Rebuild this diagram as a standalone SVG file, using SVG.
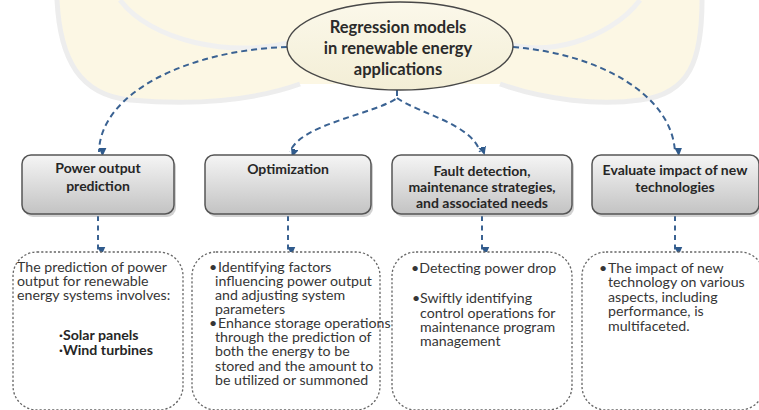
<svg xmlns="http://www.w3.org/2000/svg" width="759" height="410" viewBox="0 0 759 410">
<defs>
<style>
.hdr{fill:url(#gHdr);stroke:#555;stroke-width:1.5}
.hdrSh{fill:#9a9a9a;opacity:0.45}
.ht{font-family:Lato,"Liberation Sans",sans-serif;font-weight:bold;font-size:14px;fill:#262626;text-anchor:middle}
.bt{font-family:Lato,"Liberation Sans",sans-serif;font-size:14.2px;fill:#363636}
.bb{font-family:Lato,"Liberation Sans",sans-serif;font-size:14.2px;fill:#262626;font-weight:bold}
.dbox{fill:#fff;stroke:#666;stroke-width:1.3;stroke-dasharray:2.2 2}
.con{fill:none;stroke:#3a6292;stroke-width:2;stroke-dasharray:6 4;marker-end:url(#arr)}
.stem{fill:none;stroke:#3a6292;stroke-width:2;stroke-dasharray:5 4.5;marker-end:url(#arr)}
.et{font-family:Lato,"Liberation Sans",sans-serif;font-weight:bold;font-size:16.5px;fill:#2a2a2a;text-anchor:middle}
</style>
<linearGradient id="gHdr" x1="0" y1="0" x2="0" y2="1">
<stop offset="0" stop-color="#f5f5f5"/>
<stop offset="1" stop-color="#c3c3c3"/>
</linearGradient>
<linearGradient id="gEl" x1="0" y1="0" x2="0" y2="1">
<stop offset="0" stop-color="#fbf8ea"/>
<stop offset="1" stop-color="#f3eed6"/>
</linearGradient>
<marker id="arr" markerWidth="8" markerHeight="9" refX="4" refY="8" orient="auto" markerUnits="userSpaceOnUse" viewBox="0 0 8 9">
<path d="M0,0 L8,0 L4,9 Z" fill="#2f5a8c" transform="rotate(-90 4 4.5)"/>
</marker>
</defs>
<rect width="759" height="410" fill="#fff"/>
<g id="watermark" opacity="0.9">
<path d="M57,0 C60,60 80,95 130,100 C200,106 255,100 300,84 L500,84 C545,100 600,106 640,100 C690,94 702,60 702,0 Z" fill="#fcf7e2"/>
<path d="M57,0 C60,60 80,95 130,100 C200,106 255,100 300,84" fill="none" stroke="#ececec" stroke-width="5"/>
<path d="M500,84 C545,100 600,106 640,100 C690,94 702,60 702,0" fill="none" stroke="#ececec" stroke-width="5"/>
<path d="M120,0 C150,40 230,60 300,40" fill="none" stroke="#efefef" stroke-width="5"/>
<path d="M640,0 C610,40 540,60 500,40" fill="none" stroke="#efefef" stroke-width="5"/>
</g>
<g id="connectors">
<path class="con" d="M287,47 C190,50 100,92 99,152"/>
<path class="con" d="M513,47 C600,54 672,95 675,152"/>
<path class="con" d="M397,90 L397,98 C375,114 300,124 290,152"/>
<path class="con" d="M397,98 C420,114 472,124 480,152"/>
<path class="stem" d="M98,216 L98,251"/>
<path class="stem" d="M288,216 L288,251"/>
<path class="stem" d="M482,216 L482,251"/>
<path class="stem" d="M675,216 L675,251"/>
</g>
<g id="root">
<ellipse cx="400" cy="46" rx="113" ry="44" fill="url(#gEl)" stroke="#484848" stroke-width="1.4"/>
<text class="et" x="398" y="33">Regression models</text>
<text class="et" x="398" y="54">in renewable energy</text>
<text class="et" x="398" y="75">applications</text>
</g>
<g id="h1">
<rect class="hdrSh" x="24" y="158" width="152" height="59" rx="9"/>
<rect class="hdr" x="22" y="155" width="152" height="59" rx="9"/>
<text class="ht" x="98" y="173">Power output</text>
<text class="ht" x="98" y="191">prediction</text>
</g>
<g id="h2">
<rect class="hdrSh" x="207" y="158" width="166" height="59" rx="9"/>
<rect class="hdr" x="205" y="155" width="166" height="59" rx="9"/>
<text class="ht" x="288" y="174">Optimization</text>
</g>
<g id="h3">
<rect class="hdrSh" x="394" y="158" width="180" height="59" rx="9"/>
<rect class="hdr" x="392" y="155" width="180" height="59" rx="9"/>
<text class="ht" x="482" y="176">Fault detection,</text>
<text class="ht" x="482" y="192">maintenance strategies,</text>
<text class="ht" x="482" y="208">and associated needs</text>
</g>
<g id="h4">
<rect class="hdrSh" x="594" y="158" width="166" height="59" rx="9"/>
<rect class="hdr" x="592" y="155" width="167" height="59" rx="9"/>
<text class="ht" x="675" y="175">Evaluate impact of new</text>
<text class="ht" x="675" y="192">technologies</text>
</g>
<g id="d1">
<rect class="dbox" x="13" y="252" width="170" height="158" rx="24"/>
<g transform="translate(0,271.5) scale(1,0.9)">
<text class="bt" x="17" y="0">The prediction of power</text>
<text class="bt" x="17" y="15.78">output for renewable</text>
<text class="bt" x="17" y="31.44">energy systems involves:</text>
<text class="bb" x="59" y="76.11">·Solar panels</text>
<text class="bb" x="59" y="93.33">·Wind turbines</text>
</g>
</g>
<g id="d2">
<rect class="dbox" x="192" y="252" width="188" height="158" rx="24"/>
<g transform="translate(0,271.5) scale(1,0.9)">
<text class="bt" x="209" y="0">•<tspan x="218">Identifying factors</tspan></text>
<text class="bt" x="215" y="15.72">influencing power output</text>
<text class="bt" x="215" y="31.44">and adjusting system</text>
<text class="bt" x="215" y="47.17">parameters</text>
<text class="bt" x="209" y="62.89">•<tspan x="218">Enhance storage operations</tspan></text>
<text class="bt" x="215" y="78.61">through the prediction of</text>
<text class="bt" x="215" y="94.33">both the energy to be</text>
<text class="bt" x="215" y="110.06">stored and the amount to</text>
<text class="bt" x="215" y="125.78">be utilized or summoned</text>
</g>
</g>
<g id="d3">
<rect class="dbox" x="392" y="252" width="180" height="158" rx="24"/>
<g transform="translate(0,272.5) scale(1,0.9)">
<text class="bt" x="411" y="0">•Detecting power drop</text>
<text class="bt" x="412" y="34.44">•<tspan x="420">Swiftly identifying</tspan></text>
<text class="bt" x="420" y="50.22">control operations for</text>
<text class="bt" x="420" y="66">maintenance program</text>
<text class="bt" x="420" y="81.78">management</text>
</g>
</g>
<g id="d4">
<rect class="dbox" x="582" y="252" width="182" height="158" rx="24"/>
<g transform="translate(0,272.5) scale(1,0.9)">
<text class="bt" x="599" y="0">•<tspan x="608">The impact of new</tspan></text>
<text class="bt" x="608" y="16.22">technology on various</text>
<text class="bt" x="608" y="32.44">aspects, including</text>
<text class="bt" x="608" y="48.67">performance, is</text>
<text class="bt" x="608" y="64.89">multifaceted.</text>
</g>
</g>
</svg>
